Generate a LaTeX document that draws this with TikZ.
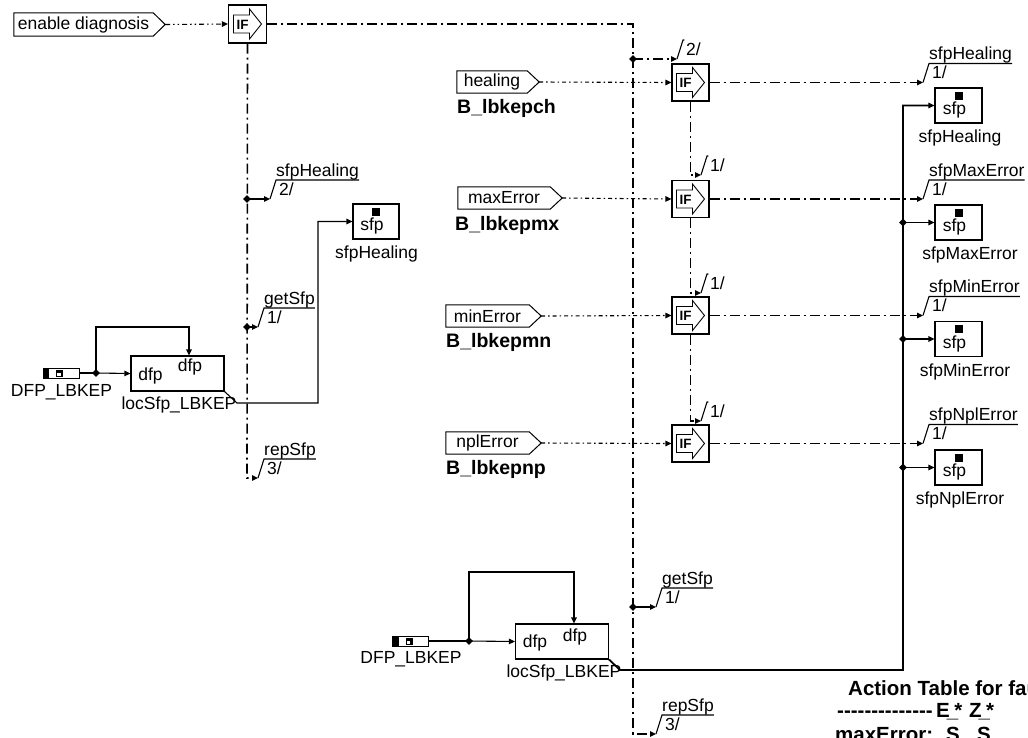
\documentclass[tikz,border=0pt]{standalone}
\usepackage{fontspec}
\setmainfont{Liberation Sans}
\usetikzlibrary{arrows.meta,shapes.geometric}
\newcommand{\sigflag}[3]{%
  \node[flagtxt, anchor=base west] (#1-n) at ([shift={(6,-23)}]#1) {#2};
  \node[flagtxt, anchor=base west] (#1-k) at ([shift={(9,-4)}]#1) {#3};
  \draw[wire] (#1) -- ++(6,-19) coordinate (#1-t) -- (#1-t -| #1-n.east);
}
\newcommand{\portoutline}[1]{%
  \draw[line width=1pt] (#1.north west) -- (#1.north east) -- ([xshift=12pt]#1.east)
    -- (#1.south east) -- (#1.south west) -- cycle;
}
\newcommand{\hy}{\mbox{-}}
\tikzset{
  wire/.style={line width=1.1pt, black},
  bus/.style={line width=1.8pt, black},
  arr/.style={-{Triangle[length=6pt,width=5.5pt]}},
  ctrl/.style={wire, dash pattern=on 10pt off 4pt on 2pt off 4pt},
  ctrlL/.style={line width=1.6pt, dash pattern=on 10pt off 4pt on 2pt off 4pt},
  sig/.style={wire, dash pattern=on 4pt off 3pt on 1.5pt off 3pt},
  sigdd/.style={wire, dash pattern=on 5pt off 3pt on 1.5pt off 3pt on 1.5pt off 3pt},
  junc/.style={diamond, fill=black, inner sep=0, minimum size=8pt},
  port/.style={rectangle, minimum height=22pt, inner sep=0},
  ifbox/.style={draw, line width=1.1pt, fill=white, minimum size=37pt, inner sep=0,
    path picture={
      \draw[line width=0.9pt] ([shift={(-14,-9)}]path picture bounding box.center)
        -- ++(16,0) -- ++(0,-6) -- ++(12,15) -- ++(-12,15) -- ++(0,-6) -- ++(-16,0) -- cycle;
      \draw[line width=1.6pt] ([shift={(-14,-9)}]path picture bounding box.center) -- ++(0,18);
      \node[inner sep=0, font=\fontsize{13.5}{14}\selectfont\bfseries]
        at ([shift={(-5,0.5)}]path picture bounding box.center) {IF};
    }},
  sfpbox/.style={draw, line width=1.1pt, minimum width=47pt, minimum height=35pt, inner sep=0,
    path picture={
      \fill ([shift={(-4,-14)}]path picture bounding box.center) rectangle ++(8,8);
      \node[inner sep=0] at ([shift={(-4,4.5)}]path picture bounding box.center) {sfp};
    }},
  locbox/.style={draw, line width=1.1pt, minimum width=93pt, minimum height=35pt, inner sep=0},
  dfpel/.style={draw, line width=1pt, minimum width=36pt, minimum height=10pt, inner sep=0,
    path picture={
      \fill ([shift={(-18,-5)}]path picture bounding box.center) rectangle ++(6,10);
      \fill ([shift={(-5,-3.5)}]path picture bounding box.center) rectangle ++(7,7);
      \fill[white] ([shift={(-4,-0.5)}]path picture bounding box.center) rectangle ++(3.5,3);
    }},
  flagtxt/.style={inner sep=0},
  lbl/.style={inner sep=0},
  blbl/.style={inner sep=0, font=\fontsize{19.5}{22}\selectfont\bfseries},
  tbl/.style={inner sep=0, font=\fontsize{20.5}{22}\selectfont\bfseries},
}
\begin{document}
\begin{tikzpicture}[x=1pt, y=-1pt, font=\fontsize{17.5}{20}\selectfont]
\useasboundingbox (0,0) rectangle (1028,737);
\fill[white] (0,0) rectangle (1028,737);
\path[clip] (0,0) rectangle (1028,737);

% ---------- nodes ----------
\node[port, minimum width=139pt, minimum height=23pt] (enable) at (83.5,24.5) {enable diagnosis};
\node[ifbox, minimum size=38pt] (IF0) at (247.5,24) {};

\node[port, minimum width=70pt] (healing) at (492,82) {healing};
\node[port, minimum width=92pt] (maxError) at (504,198) {maxError};
\node[port, minimum width=83pt] (minError) at (487.5,316) {minError};
\node[port, minimum width=83pt] (nplError) at (487.5,443) {nplError};
\foreach \p in {enable,healing,maxError,minError,nplError} {\portoutline{\p}}

\node[ifbox] (IFa) at (690.5,82.5) {};
\node[ifbox] (IFb) at (690.5,199) {};
\node[ifbox] (IFc) at (690.5,315.5) {};
\node[ifbox] (IFd) at (690.5,443.5) {};

\node[sfpbox, minimum width=46pt] (sfpL) at (376,221.5) {};
\node[sfpbox] (sfpR1) at (958.5,105.5) {};
\node[sfpbox] (sfpR2) at (958.5,222.5) {};
\node[sfpbox] (sfpR3) at (958.5,339) {};
\node[sfpbox] (sfpR4) at (958.5,467.5) {};

\node[locbox] (locL) at (177.5,373.5) {};
\node[locbox] (locB) at (562,641.5) {};
\node[dfpel] (dfpL) at (61,373) {};
\node[dfpel] (dfpB) at (410.5,641) {};

% ---------- coordinates ----------
\coordinate (cTop) at (633,24);
\coordinate (cLbot) at (247,478);
\coordinate (cCbot) at (633,734);
\coordinate (fL1) at (270,199);
\coordinate (fL2) at (258,327);
\coordinate (fL3) at (258,478);
\coordinate (fC0) at (677,59);
\coordinate (fC1) at (701,175);
\coordinate (fC2) at (701,293);
\coordinate (fC3) at (701,421);
\coordinate (fC4) at (656,607);
\coordinate (fC5) at (656,734);
\coordinate (fR1) at (923,82.5);
\coordinate (fR2) at (923,199);
\coordinate (fR3) at (923,315.5);
\coordinate (fR4) at (923,443.5);
\coordinate (jL1) at (247,199);
\coordinate (jL2) at (247,327);
\coordinate (jC1) at (633,59);
\coordinate (jC2) at (633,607);
\coordinate (jR2) at (903,222.5);
\coordinate (jR3) at (903,339);
\coordinate (jR4) at (903,467.5);
\coordinate (jF1) at (96,373);
\coordinate (jF2) at (469,641);
\coordinate (kL) at (189,327);
\coordinate (oL) at (237,403);
\coordinate (kO) at (318,403);
\coordinate (kB) at (574,572);
\coordinate (oB) at (620,670);
\coordinate (kBus) at (903,670);

% ---------- connectors ----------
\draw[sigdd,arr] ([xshift=12pt]enable.east) -- (IF0.west);
\draw[ctrl,arr] (IF0.east) -- (cTop) -- (cCbot) -- (fC5);
\draw[ctrlL,arr] (IF0.south) -- (cLbot) -- (fL3);
\draw[wire,arr] (jL1) -- (fL1);
\draw[wire,arr] (jL2) -- (fL2);
\draw[ctrl,arr] (jC1) -- (fC0);
\draw[wire,arr] (jC2) -- (fC4);

\draw[sig,arr] ([xshift=12pt]healing.east) -- (IFa.west);
\draw[sig,arr] ([xshift=12pt]maxError.east) -- (IFb.west);
\draw[sig,arr] ([xshift=12pt]minError.east) -- (IFc.west);
\draw[sig,arr] ([xshift=12pt]nplError.east) -- (IFd.west);

\draw[ctrl,arr] (IFa.south) |- (fC1);
\draw[ctrl,arr] (IFb.south) |- (fC2);
\draw[ctrl,arr] (IFc.south) |- (fC3);

\draw[ctrl,arr] (IFa.east) -- (fR1);
\draw[ctrl,arr] (IFb.east) -- (fR2);
\draw[ctrl,arr] (IFc.east) -- (fR3);
\draw[ctrl,arr] (IFd.east) -- (fR4);

\draw[wire] (dfpL.east) -- (jF1);
\draw[wire,arr] (jF1) -- (locL.west);
\draw[wire,arr] (jF1) |- (kL) -- (kL |- locL.north);
\draw[wire,arr] (locL.south east) -- (oL) -- (kO) |- (sfpL.west);

\draw[wire] (dfpB.east) -- (jF2);
\draw[wire,arr] (jF2) -- (locB.west);
\draw[wire,arr] (jF2) |- (kB) -- (kB |- locB.north);
\draw[bus,arr] (locB.south east) -- (oB) -- (kBus) |- (sfpR1.west);
\draw[wire,arr] (jR2) -- (sfpR2.west);
\draw[wire,arr] (jR3) -- (sfpR3.west);
\draw[wire,arr] (jR4) -- (sfpR4.west);

% ---------- junctions ----------
\foreach \j in {jL1,jL2,jC1,jC2,jR2,jR3,jR4,jF1,jF2}
  \node[junc] at (\j) {};

% ---------- flags ----------
\sigflag{fL1}{sfpHealing}{2/}
\sigflag{fL2}{getSfp}{1/}
\sigflag{fL3}{repSfp}{3/}
\sigflag{fC0}{}{2/}
\sigflag{fC1}{}{1/}
\sigflag{fC2}{}{1/}
\sigflag{fC3}{}{1/}
\sigflag{fC4}{getSfp}{1/}
\sigflag{fC5}{repSfp}{3/}
\sigflag{fR1}{sfpHealing}{1/}
\sigflag{fR2}{sfpMaxError}{1/}
\sigflag{fR3}{sfpMinError}{1/}
\sigflag{fR4}{sfpNplError}{1/}

% ---------- labels ----------
\node[blbl, anchor=base west] (bch) at (457,113) {B\_lbkepch};
\node[blbl, anchor=base west] (bmx) at (455,230) {B\_lbkepmx};
\node[blbl, anchor=base west] (bmn) at (446,347) {B\_lbkepmn};
\node[blbl, anchor=base west] (bnp) at (446,474) {B\_lbkepnp};

\node[lbl, anchor=base] (tdfpL) at (61.5,396) {DFP\_LBKEP};
\node[lbl, anchor=base] (tdfpB) at (411,663) {DFP\_LBKEP};
\node[lbl, anchor=base] (tlocL) at (179,409) {locSfp\_LBKEP};
\node[lbl, anchor=base] (tlocB) at (564,677) {locSfp\_LBKEP};
\node[lbl] (dL1) at (150.5,376) {dfp};
\node[lbl] (dL2) at (190,367) {dfp};
\node[lbl] (dB1) at (535,643) {dfp};
\node[lbl] (dB2) at (575,637) {dfp};

\node[lbl, anchor=base] (tsL) at (376.5,258) {sfpHealing};
\node[lbl, anchor=base] (ts1) at (960,142) {sfpHealing};
\node[lbl, anchor=base] (ts2) at (970,259) {sfpMaxError};
\node[lbl, anchor=base] (ts3) at (965,376) {sfpMinError};
\node[lbl, anchor=base] (ts4) at (960,504) {sfpNplError};

% ---------- action table ----------
\node[tbl, anchor=base west] (at1) at (848,695) {Action Table for fault};
\node[tbl, anchor=base west] (at2) at (837,717) {\hy\hy\hy\hy\hy\hy\hy\hy\hy\hy\hy\hy\hy\hy};
\node[tbl, anchor=base west] (at3) at (936,717) {E\kern-3pt\_\kern-4pt*};
\node[tbl, anchor=base west] (at4) at (969,717) {Z\kern-3pt\_\kern-4pt*};
\node[tbl, anchor=base west] (at5) at (835,741) {maxError:};
\node[tbl, anchor=base west] (at6) at (946,741) {S};
\node[tbl, anchor=base west] (at7) at (977,741) {S};
\end{tikzpicture}
\end{document}
